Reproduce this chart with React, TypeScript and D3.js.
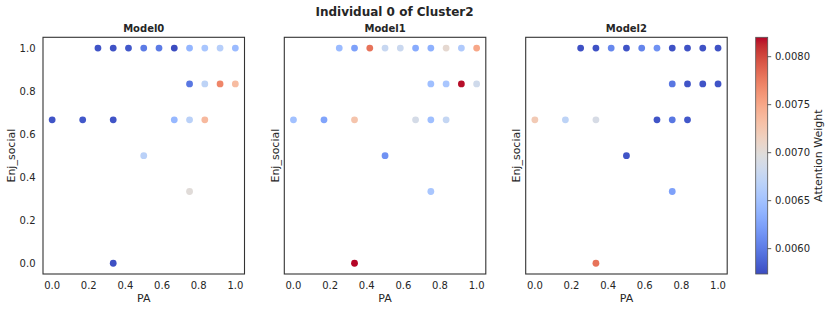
import React from "react";
import * as d3 from "d3";

// x positions (PA) and y positions (Enj_social) are multiples of 1/12 and 1/6
const model0PA = [0.25, 1 / 3, 5 / 12, 0.5, 7 / 12, 2 / 3, 0.75, 5 / 6, 11 / 12, 1.0, 0.75, 5 / 6, 11 / 12, 1.0, 0, 1 / 6, 1 / 3, 2 / 3, 0.75, 5 / 6, 0.5, 0.75, 1 / 3];
const model0Enj = [1, 1, 1, 1, 1, 1, 1, 1, 1, 1, 5 / 6, 5 / 6, 5 / 6, 5 / 6, 2 / 3, 2 / 3, 2 / 3, 2 / 3, 2 / 3, 2 / 3, 0.5, 1 / 3, 0];
const model0Att = [0.00578, 0.00577, 0.0058, 0.006, 0.006, 0.005736, 0.0064, 0.00655, 0.00665, 0.00645, 0.00598, 0.0067, 0.0077, 0.00735, 0.00578, 0.0058, 0.00578, 0.00642, 0.00668, 0.00737, 0.00668, 0.007, 0.00576];

const model1PA = [0.25, 1 / 3, 5 / 12, 0.5, 7 / 12, 2 / 3, 0.75, 5 / 6, 11 / 12, 1.0, 0.75, 5 / 6, 11 / 12, 1.0, 0, 1 / 6, 1 / 3, 2 / 3, 0.75, 5 / 6, 0.5, 0.75, 1 / 3];
const model1Enj = [1, 1, 1, 1, 1, 1, 1, 1, 1, 1, 5 / 6, 5 / 6, 5 / 6, 5 / 6, 2 / 3, 2 / 3, 2 / 3, 2 / 3, 2 / 3, 2 / 3, 0.5, 1 / 3, 0];
const model1Att = [0.00645, 0.00625, 0.0078, 0.00678, 0.0068, 0.00632, 0.00636, 0.00705, 0.0066, 0.0075, 0.00648, 0.00655, 0.00818, 0.00684, 0.0065, 0.00627, 0.00728, 0.00688, 0.00648, 0.00675, 0.00615, 0.00655, 0.008202];

const model2PA = [0.25, 1 / 3, 5 / 12, 0.5, 7 / 12, 2 / 3, 0.75, 5 / 6, 11 / 12, 1.0, 0.75, 5 / 6, 11 / 12, 1.0, 0, 1 / 6, 1 / 3, 2 / 3, 0.75, 5 / 6, 0.5, 0.75, 1 / 3];
const model2Enj = [1, 1, 1, 1, 1, 1, 1, 1, 1, 1, 5 / 6, 5 / 6, 5 / 6, 5 / 6, 2 / 3, 2 / 3, 2 / 3, 2 / 3, 2 / 3, 2 / 3, 0.5, 1 / 3, 0];
const model2Att = [0.00576, 0.00577, 0.00608, 0.00578, 0.00606, 0.00615, 0.00577, 0.00577, 0.00577, 0.00577, 0.00598, 0.00578, 0.00578, 0.00578, 0.00722, 0.0067, 0.0069, 0.00578, 0.00598, 0.0058, 0.00578, 0.00625, 0.0078];

const modelNames = ["Model0", "Model1", "Model2"];
const axisTicks = [0, 0.2, 0.4, 0.6, 0.8, 1.0];
const cbarTicks = [0.006, 0.0065, 0.007, 0.0075, 0.008];
const title = "Individual 0 of Cluster2";
const xLabel = "PA";
const yLabel = "Enj_social";
const cbarLabel = "Attention Weight";

// matplotlib coolwarm control points
const coolwarmStops: [number, number, number][] = [
  [59, 76, 192], [68, 90, 204], [77, 104, 215], [87, 117, 225], [98, 130, 234], [108, 142, 241],
  [119, 154, 247], [130, 165, 251], [141, 176, 254], [152, 185, 255], [163, 194, 255], [174, 201, 253],
  [184, 208, 249], [194, 213, 244], [204, 217, 238], [213, 219, 230], [221, 221, 221], [229, 216, 209],
  [236, 211, 197], [241, 204, 184], [245, 196, 172], [247, 187, 160], [247, 177, 148], [247, 166, 135],
  [244, 154, 123], [241, 141, 111], [236, 127, 99], [229, 112, 88], [222, 96, 77], [213, 80, 66],
  [203, 62, 56], [192, 40, 47], [180, 4, 38],
];
const coolwarm = d3
  .scaleLinear<string>()
  .domain(coolwarmStops.map((_, i) => i / (coolwarmStops.length - 1)))
  .range(coolwarmStops.map((c) => `rgb(${c[0]},${c[1]},${c[2]})`))
  .clamp(true);

const panels = [
  { name: modelNames[0], pa: model0PA, enj: model0Enj, att: model0Att },
  { name: modelNames[1], pa: model1PA, enj: model1Enj, att: model1Att },
  { name: modelNames[2], pa: model2PA, enj: model2Enj, att: model2Att },
];

const allAtt = [...model0Att, ...model1Att, ...model2Att];
const [vmin, vmax] = d3.extent(allAtt) as [number, number];

const W = 830;
const H = 311;
const panelLefts = [43, 284.3, 525.7];
const panelW = 201.5;
const top = 37.3;
const bottom = 274;
const cbX = 755.7;
const cbW = 12;
const font = "DejaVu Sans, sans-serif";
const txt = "#262626";

export default function App() {
  const norm = d3.scaleLinear().domain([vmin, vmax]).range([0, 1]);
  const cbY = d3.scaleLinear().domain([vmin, vmax]).range([bottom, top]);
  const y = d3.scaleLinear().domain([-0.05, 1.05]).range([bottom, top]);
  const gradStops = d3.range(0, 1.0001, 1 / 64);

  return (
    <svg width={W} height={H} style={{ position: "absolute", left: 0, top: 0 }} fontFamily={font}>
      <defs>
        <linearGradient id="cbgrad" x1="0" y1="1" x2="0" y2="0">
          {gradStops.map((t, i) => (
            <stop key={i} offset={t} stopColor={coolwarm(t)} />
          ))}
        </linearGradient>
      </defs>
      <rect x={0} y={0} width={W} height={H} fill="white" />
      <text x={394.5} y={15.5} textAnchor="middle" fontSize={12} fontWeight="bold" fill={txt}>
        {title}
      </text>
      {panels.map((p, pi) => {
        const left = panelLefts[pi];
        const x = d3.scaleLinear().domain([-0.05, 1.05]).range([left, left + panelW]);
        const cx = left + panelW / 2;
        return (
          <g key={p.name}>
            <text x={cx} y={32.3} textAnchor="middle" fontSize={10} fontWeight="bold" fill={txt}>
              {p.name}
            </text>
            {p.pa.map((v, i) => (
              <circle key={i} cx={x(v)} cy={y(p.enj[i])} r={3.4} fill={coolwarm(norm(p.att[i]))} />
            ))}
            <rect x={left} y={top} width={panelW} height={bottom - top} fill="none" stroke="#333" strokeWidth={1.1} />
            {axisTicks.map((t) => (
              <text key={t} x={x(t)} y={289} textAnchor="middle" fontSize={10} fill={txt}>
                {t.toFixed(1)}
              </text>
            ))}
            <text x={cx} y={302} textAnchor="middle" fontSize={11} fill={txt}>
              {xLabel}
            </text>
            {pi === 0 &&
              axisTicks.map((t) => (
                <text key={t} x={35.5} y={y(t)} dy="0.36em" textAnchor="end" fontSize={10} fill={txt}>
                  {t.toFixed(1)}
                </text>
              ))}
            <text
              transform={`translate(${pi === 0 ? 11 : left - 9.6},${(top + bottom) / 2}) rotate(-90)`}
              textAnchor="middle"
              dy="0.36em"
              fontSize={11}
              fill={txt}
            >
              {yLabel}
            </text>
          </g>
        );
      })}
      <rect x={cbX} y={top} width={cbW} height={bottom - top} fill="url(#cbgrad)" stroke="#555" strokeWidth={0.8} />
      {cbarTicks.map((t) => (
        <g key={t}>
          <line x1={cbX + cbW} x2={cbX + cbW + 3.5} y1={cbY(t)} y2={cbY(t)} stroke="#333" strokeWidth={0.8} />
          <text x={775} y={cbY(t)} dy="0.36em" fontSize={10} fill={txt}>
            {t.toFixed(4)}
          </text>
        </g>
      ))}
      <text
        transform={`translate(818.3,${(top + bottom) / 2}) rotate(-90)`}
        textAnchor="middle"
        dy="0.36em"
        fontSize={11}
        fill={txt}
      >
        {cbarLabel}
      </text>
    </svg>
  );
}
